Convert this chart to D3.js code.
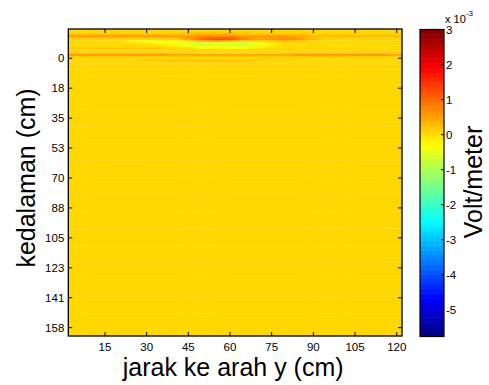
<!DOCTYPE html>
<html><head><meta charset="utf-8">
<script src="https://cdn.jsdelivr.net/npm/d3@7"></script>
<style>body{margin:0;background:#fff}svg{display:block}text{font-family:Arial,"Liberation Sans",sans-serif;fill:#000}</style>
</head><body><div id="chart"></div>
<script>
// ---------- data (values in units of 1e-3 Volt/meter) ----------
const xCols = [0,5,10,15,20,25,30,35,40,45,50,55,60,65,70,75,80,85,90,95,100,105,110,115,120];
const depthRows = [-17,-16,-15,-14,-13,-12,-11,-10,-9,-8,-7,-6,-5,-4,-3,-2,-1,0,1,2,3,4,5,
                   8,12,18,25,35,45,55,65,75,85,95,105,115,125,135,145,155,162];
const values = [
 [0.08,0.08,0.08,0.08,0.08,0.08,0.08,0.08,0.08,0.08,0.08,0.08,0.08,0.08,0.08,0.08,0.08,0.08,0.06,0.06,0.06,0.06,0.06,0.06,0.06],
 [0.08,0.08,0.08,0.08,0.08,0.08,0.08,0.08,0.08,0.08,0.08,0.08,0.08,0.08,0.08,0.08,0.08,0.08,0.06,0.06,0.06,0.06,0.06,0.06,0.06],
 [0.12,0.12,0.12,0.12,0.12,0.12,0.12,0.12,0.12,0.15,0.15,0.15,0.15,0.15,0.12,0.12,0.12,0.12,0.1,0.1,0.1,0.1,0.1,0.1,0.1],
 [0.3,0.3,0.3,0.3,0.3,0.3,0.3,0.3,0.3,0.35,0.4,0.4,0.4,0.35,0.3,0.3,0.3,0.3,0.2,0.15,0.15,0.15,0.15,0.15,0.15],
 [0.55,0.55,0.55,0.55,0.55,0.55,0.55,0.55,0.55,0.65,0.7,0.7,0.7,0.65,0.55,0.55,0.55,0.5,0.35,0.3,0.3,0.3,0.3,0.3,0.3],
 [0.2,0.2,0.2,0.2,0.2,0.2,0.2,0.2,0.25,0.6,0.9,1.0,0.95,0.7,0.4,0.5,0.55,0.5,0.2,0.1,0.1,0.1,0.1,0.1,0.1],
 [0.1,0.1,0.1,0.1,0.1,0.0,0.0,0.0,0.0,0.5,1.0,1.25,1.15,0.8,0.4,0.6,0.7,0.6,0.3,0.1,0.08,0.08,0.08,0.08,0.08],
 [0.08,0.08,0.08,0.08,0.08,-0.2,-0.4,-0.45,-0.4,-0.1,0.3,0.45,0.35,0.1,0.0,0.2,0.3,0.2,0.1,0.08,0.08,0.08,0.08,0.08,0.08],
 [0.08,0.08,0.08,0.08,0.08,-0.1,-0.25,-0.3,-0.3,-0.45,-0.6,-0.5,-0.55,-0.6,-0.4,-0.1,0.08,0.08,0.08,0.06,0.06,0.06,0.06,0.06,0.06],
 [0.08,0.08,0.08,0.08,0.08,0.08,0.0,-0.1,-0.2,-0.5,-0.65,-0.55,-0.6,-0.65,-0.5,-0.2,0.05,0.05,0.05,0.05,0.05,0.05,0.05,0.05,0.05],
 [0.1,0.1,0.1,0.1,0.1,0.08,0.05,0.0,-0.1,-0.3,-0.5,-0.4,-0.5,-0.55,-0.35,-0.1,0.05,0.05,0.05,0.05,0.05,0.05,0.05,0.05,0.05],
 [0.18,0.18,0.18,0.18,0.18,0.18,0.18,0.18,0.12,0.05,-0.3,-0.2,-0.3,-0.3,-0.1,0.08,0.08,0.08,0.08,0.08,0.08,0.08,0.08,0.08,0.08],
 [0.1,0.1,0.1,0.1,0.1,0.1,0.1,0.1,0.1,0.08,0.05,0.0,0.0,0.0,0.05,0.08,0.1,0.1,0.1,0.1,0.1,0.1,0.1,0.1,0.1],
 [0.1,0.1,0.1,0.1,0.1,0.1,0.1,0.1,0.1,0.1,0.08,0.08,0.08,0.08,0.08,0.1,0.1,0.1,0.1,0.1,0.1,0.1,0.1,0.1,0.1],
 [0.2,0.2,0.2,0.2,0.2,0.2,0.2,0.2,0.2,0.2,0.12,0.12,0.12,0.12,0.12,0.12,0.2,0.2,0.2,0.2,0.2,0.2,0.2,0.2,0.2],
 [0.55,0.55,0.55,0.55,0.55,0.55,0.55,0.55,0.5,0.4,0.4,0.4,0.4,0.4,0.4,0.4,0.5,0.55,0.55,0.55,0.55,0.55,0.55,0.55,0.45],
 [0.15,0.15,0.15,0.15,0.15,0.15,0.15,0.15,0.15,0.15,0.15,0.15,0.15,0.15,0.15,0.15,0.15,0.15,0.15,0.15,0.15,0.15,0.15,0.15,0.15],
 [0.08,0.08,0.08,0.08,0.08,0.08,0.08,0.08,0.08,0.08,0.08,0.08,0.08,0.08,0.08,0.08,0.08,0.08,0.08,0.08,0.08,0.08,0.08,0.08,0.08],
 [0.1,0.1,0.1,0.1,0.1,0.1,0.2,0.2,0.2,0.2,0.2,0.2,0.2,0.2,0.2,0.1,0.1,0.1,0.08,0.08,0.08,0.08,0.08,0.08,0.08],
 [0.1,0.1,0.1,0.1,0.1,0.1,0.1,0.1,0.18,0.18,0.18,0.18,0.18,0.18,0.1,0.1,0.1,0.1,0.06,0.06,0.06,0.06,0.06,0.06,0.06],
 [0.08,0.08,0.08,0.08,0.08,0.08,0.08,0.08,0.08,0.08,0.08,0.08,0.08,0.08,0.08,0.08,0.08,0.08,0.05,0.05,0.05,0.05,0.05,0.05,0.05],
 [0.08,0.08,0.08,0.08,0.08,0.08,0.08,0.08,0.08,0.08,0.08,0.08,0.08,0.08,0.08,0.08,0.05,0.05,0.05,0.05,0.05,0.05,0.05,0.05,0.05],
 [0.08,0.08,0.08,0.08,0.08,0.08,0.08,0.08,0.08,0.08,0.08,0.08,0.08,0.08,0.06,0.06,0.04,0.04,0.02,0.02,0.02,0.02,0.02,0.02,0.02],
 [0.08,0.08,0.06,0.06,0.06,0.06,0.06,0.08,0.08,0.08,0.06,0.06,0.06,0.06,0.04,0.02,0.0,0.0,0.0,0.0,0.0,0.0,0.0,0.0,0.02],
 [0.06,0.06,0.06,0.06,0.06,0.04,0.04,0.06,0.06,0.06,0.06,0.06,0.06,0.06,0.04,0.02,0.0,0.0,0.02,0.02,0.0,0.0,0.0,0.02,0.02],
 [0.06,0.06,0.06,0.06,0.06,0.06,0.06,0.06,0.06,0.06,0.06,0.06,0.06,0.06,0.04,0.02,0.02,0.02,0.04,0.04,0.04,0.02,0.02,0.04,0.04],
 [0.06,0.06,0.04,0.04,0.06,0.06,0.06,0.06,0.06,0.06,0.06,0.06,0.06,0.06,0.06,0.04,0.04,0.04,0.04,0.04,0.04,0.04,0.04,0.04,0.04],
 [0.06,0.06,0.06,0.06,0.06,0.06,0.06,0.06,0.06,0.06,0.06,0.06,0.06,0.06,0.06,0.06,0.06,0.06,0.06,0.06,0.06,0.06,0.06,0.06,0.06],
 [0.06,0.06,0.06,0.06,0.06,0.06,0.06,0.06,0.06,0.06,0.06,0.06,0.06,0.06,0.06,0.06,0.06,0.06,0.06,0.06,0.06,0.06,0.06,0.06,0.06],
 [0.06,0.06,0.06,0.06,0.06,0.06,0.06,0.06,0.06,0.06,0.06,0.06,0.06,0.06,0.06,0.06,0.06,0.06,0.06,0.06,0.06,0.06,0.06,0.06,0.06],
 [0.06,0.06,0.06,0.06,0.06,0.06,0.06,0.06,0.06,0.06,0.06,0.06,0.06,0.06,0.06,0.06,0.06,0.06,0.06,0.06,0.06,0.06,0.06,0.06,0.06],
 [0.06,0.06,0.06,0.06,0.06,0.06,0.06,0.06,0.06,0.06,0.06,0.06,0.06,0.06,0.06,0.06,0.06,0.06,0.06,0.06,0.06,0.06,0.06,0.06,0.06],
 [0.06,0.06,0.06,0.06,0.06,0.06,0.06,0.06,0.06,0.06,0.06,0.06,0.06,0.06,0.06,0.06,0.06,0.06,0.06,0.06,0.06,0.06,0.06,0.06,0.06],
 [0.06,0.06,0.06,0.06,0.06,0.06,0.06,0.06,0.06,0.06,0.06,0.06,0.06,0.06,0.06,0.06,0.06,0.06,0.06,0.06,0.06,0.06,0.06,0.06,0.06],
 [0.06,0.06,0.06,0.06,0.06,0.06,0.06,0.06,0.06,0.06,0.06,0.06,0.06,0.06,0.06,0.06,0.06,0.06,0.06,0.06,0.06,0.06,0.06,0.06,0.06],
 [0.06,0.06,0.06,0.06,0.06,0.06,0.06,0.06,0.06,0.06,0.06,0.06,0.06,0.06,0.06,0.06,0.06,0.06,0.06,0.06,0.06,0.06,0.06,0.06,0.06],
 [0.06,0.06,0.06,0.06,0.06,0.06,0.06,0.06,0.06,0.06,0.06,0.06,0.06,0.06,0.06,0.06,0.06,0.06,0.06,0.06,0.06,0.06,0.06,0.06,0.06],
 [0.06,0.06,0.06,0.06,0.06,0.06,0.06,0.06,0.06,0.06,0.06,0.06,0.06,0.06,0.06,0.06,0.06,0.06,0.06,0.06,0.06,0.06,0.06,0.06,0.06],
 [0.06,0.06,0.06,0.06,0.06,0.06,0.06,0.06,0.06,0.06,0.06,0.06,0.06,0.06,0.06,0.06,0.06,0.06,0.06,0.06,0.06,0.06,0.06,0.06,0.06],
 [0.06,0.06,0.06,0.06,0.06,0.06,0.06,0.06,0.06,0.06,0.06,0.06,0.06,0.06,0.06,0.06,0.06,0.06,0.06,0.06,0.06,0.06,0.06,0.06,0.06],
 [0.06,0.06,0.06,0.06,0.06,0.06,0.06,0.06,0.06,0.06,0.06,0.06,0.06,0.06,0.06,0.06,0.06,0.06,0.06,0.06,0.06,0.06,0.06,0.06,0.06]
];
const xTicks = [15,30,45,60,75,90,105,120];
const yTickValues = [0,17.6,35.2,52.8,70.4,88,105.6,123.2,140.8,158.4];
const yTickLabels = ["0","18","35","53","70","88","105","123","141","158"];
const cTicks = [-5,-4,-3,-2,-1,0,1,2,3];
const cDomain = [-5.76, 3];
const xLabel = "jarak ke arah y (cm)";
const yLabel = "kedalaman (cm)";
const cLabel = "Volt/meter";

// ---------- layout ----------
const W = 489, H = 385;
const plot = {l: 68.3, r: 402, t: 29, b: 336};
const cbar = {l: 420, r: 444, t: 29.5, b: 336.5};

const svg = d3.select("#chart").append("svg").attr("width", W).attr("height", H);

const x = d3.scaleLinear().domain([1.8, 121.9]).range([plot.l, plot.r]);
const y = d3.scaleLinear().domain([-17.2, 163.3]).range([plot.t, plot.b]);
const c = d3.scaleLinear().domain(cDomain).range([cbar.b, cbar.t]);

function clamp(v){return Math.max(0, Math.min(1, v));}
function jet(t){
  const i = Math.max(0, Math.min(63, Math.floor(t * 64)));
  const u = (i + 0.5) / 64;
  const r = clamp(Math.min(4*u-1.5, -4*u+4.5));
  const g = clamp(Math.min(4*u-0.5, -4*u+3.5));
  const b = clamp(Math.min(4*u+0.5, -4*u+2.5));
  return d3.rgb(r*255, g*255, b*255).toString();
}
const tScale = d3.scaleLinear().domain(cDomain).range([0, 1]).clamp(true);
const color = v => jet(tScale(v));

// ---------- heatmap ----------
const defs = svg.append("defs");
defs.append("clipPath").attr("id", "clip").append("rect")
  .attr("x", plot.l).attr("y", plot.t).attr("width", plot.r - plot.l).attr("height", plot.b - plot.t);
const f = defs.append("filter").attr("id", "blur")
  .attr("x", "-5%").attr("y", "-5%").attr("width", "110%").attr("height", "110%");
f.append("feGaussianBlur").attr("stdDeviation", "3.5 0.5");

const dx = xCols[1] - xCols[0];
const xEdges = xCols.map(v => [v - dx/2, v + dx/2]);
const yEdges = depthRows.map((d, i) => {
  const top = i === 0 ? d - 4 : (depthRows[i-1] + d) / 2;
  const bot = i === depthRows.length - 1 ? d + 8 : (d + depthRows[i+1]) / 2;
  return [top, bot];
});
const cells = [];
values.forEach((row, i) => row.forEach((v, j) => cells.push({i, j, v})));

const heat = svg.append("g").attr("clip-path", "url(#clip)")
  .append("g").attr("filter", "url(#blur)");
heat.selectAll("rect").data(cells).join("rect")
  .attr("x", d => x(xEdges[d.j][0] - (d.j === 0 ? 5 : 0)))
  .attr("width", d => x(xEdges[d.j][1] + (d.j === xCols.length-1 ? 5 : 0)) - x(xEdges[d.j][0] - (d.j === 0 ? 5 : 0)) + 0.5)
  .attr("y", d => y(yEdges[d.i][0]))
  .attr("height", d => y(yEdges[d.i][1]) - y(yEdges[d.i][0]) + 0.3)
  .attr("fill", d => color(d.v));

// ---------- axes ----------
const tl = 4;
const axes = svg.append("g").attr("stroke", "#000").attr("stroke-width", 1);
xTicks.forEach(v => {
  axes.append("line").attr("x1", x(v)).attr("x2", x(v)).attr("y1", plot.b).attr("y2", plot.b - tl);
  axes.append("line").attr("x1", x(v)).attr("x2", x(v)).attr("y1", plot.t).attr("y2", plot.t + tl);
});
yTickValues.forEach(v => {
  axes.append("line").attr("x1", plot.l).attr("x2", plot.l + tl).attr("y1", y(v)).attr("y2", y(v));
  axes.append("line").attr("x1", plot.r).attr("x2", plot.r - tl).attr("y1", y(v)).attr("y2", y(v));
});
svg.append("rect").attr("x", plot.l).attr("y", plot.t).attr("width", plot.r - plot.l).attr("height", plot.b - plot.t)
  .attr("fill", "none").attr("stroke", "#000").attr("stroke-width", 1.3);

svg.append("g").selectAll("text").data(xTicks).join("text")
  .attr("x", d => x(d)).attr("y", plot.b + 15).attr("text-anchor", "middle")
  .attr("font-size", "11.5px").text(d => d);
svg.append("g").selectAll("text").data(yTickValues).join("text")
  .attr("x", plot.l - 4).attr("y", d => y(d)).attr("dy", "0.35em").attr("text-anchor", "end")
  .attr("font-size", "11.5px").text((d, i) => yTickLabels[i]);

svg.append("text").attr("x", (plot.l + plot.r)/2 - 2).attr("y", 376).attr("text-anchor", "middle")
  .attr("font-size", "25px").text(xLabel);
svg.append("text").attr("transform", `translate(35,178) rotate(-90)`).attr("text-anchor", "middle")
  .attr("font-size", "25px").text(yLabel);

// ---------- colorbar ----------
const nLev = 64;
const levels = d3.range(nLev);
const step = (cDomain[1] - cDomain[0]) / nLev;
svg.append("g").selectAll("rect").data(levels).join("rect")
  .attr("x", cbar.l).attr("width", cbar.r - cbar.l)
  .attr("y", d => c(cDomain[0] + (d+1)*step))
  .attr("height", d => c(cDomain[0] + d*step) - c(cDomain[0] + (d+1)*step) + 0.5)
  .attr("fill", d => jet((d + 0.5) / nLev));
svg.append("rect").attr("x", cbar.l).attr("y", cbar.t).attr("width", cbar.r - cbar.l).attr("height", cbar.b - cbar.t)
  .attr("fill", "none").attr("stroke", "#000").attr("stroke-width", 1.2);
const cg = svg.append("g");
cTicks.forEach(v => {
  cg.append("line").attr("x1", cbar.r).attr("x2", cbar.r - 3).attr("y1", c(v)).attr("y2", c(v))
    .attr("stroke", "#000").attr("stroke-width", 1);
  cg.append("text").attr("x", cbar.r + 2).attr("y", c(v)).attr("dy", "0.35em")
    .attr("font-size", "11.5px").text(v);
});
const ex = svg.append("text").attr("x", 445).attr("y", 23).attr("font-size", "11px");
ex.append("tspan").text("x 10");
ex.append("tspan").attr("dy", -7).attr("font-size", "8px").text("-3");
svg.append("text").attr("transform", `translate(482,182) rotate(-90)`).attr("text-anchor", "middle")
  .attr("font-size", "25px").text(cLabel);
</script>
</body></html>
